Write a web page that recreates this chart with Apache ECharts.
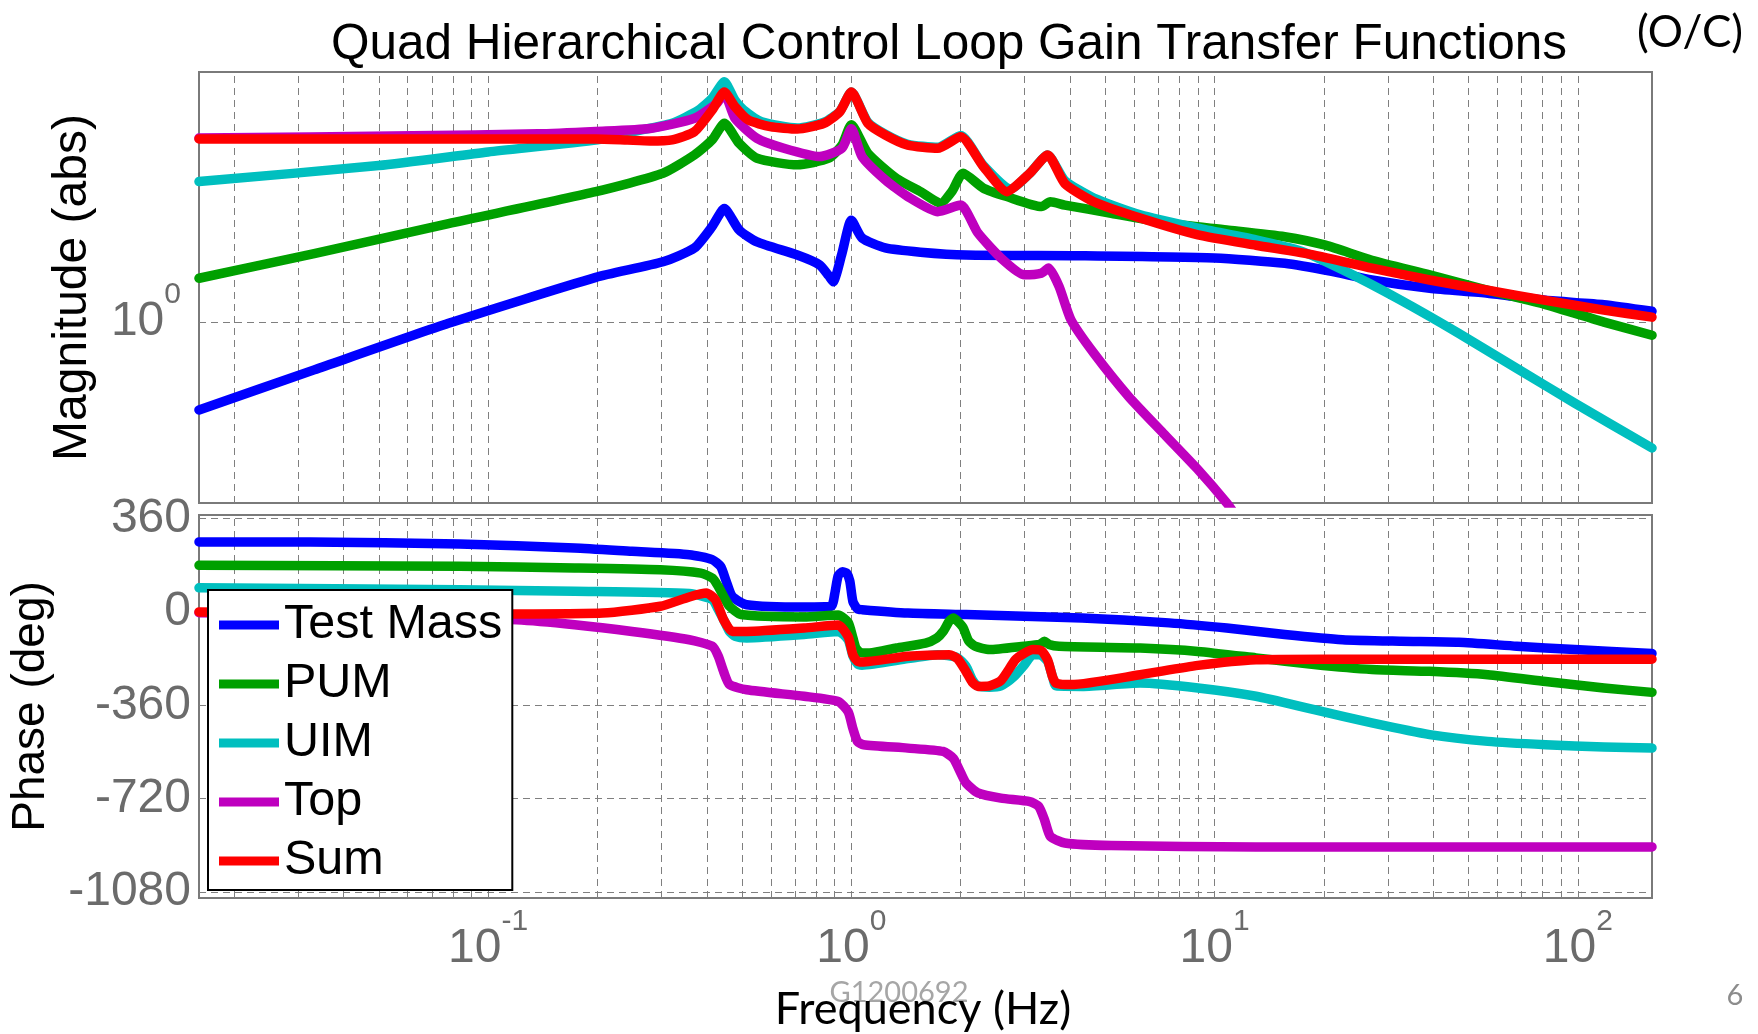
<!DOCTYPE html>
<html>
<head>
<meta charset="utf-8">
<title>Quad Hierarchical Control Loop Gain Transfer Functions</title>
<script src="https://cdn.jsdelivr.net/npm/echarts@6/dist/echarts.min.js"></script>
<style>
html,body{margin:0;padding:0;background:#fff;}
#chart{width:1758px;height:1034px;}
</style>
</head>
<body>
<div id="chart"></div>
<script>
// axes
const freqMin = 0.016, freqMax = 160
const gridFreqs = [0.02,0.03,0.04,0.05,0.06,0.07,0.08,0.09,
  0.1,0.2,0.3,0.4,0.5,0.6,0.7,0.8,0.9,
  1,2,3,4,5,6,7,8,9,
  10,20,30,40,50,60,70,80,90,100]
const magMin = 0.235, magMax = 7.4
const magGrid = [1]
const phaseMin = -1103, phaseMax = 374
const phaseTicks = [360, 0, -360, -720, -1080]

const names = ['Test Mass', 'PUM', 'UIM', 'Top', 'Sum']
const colors = ['#0000ff', '#00a000', '#00bfbf', '#bf00bf', '#ff0000']

// magnitude, [Hz, abs]
const testMassMag = [[0.016,0.495],[0.0332,0.682],[0.0778,0.99],[0.198,1.43],[0.303,1.62],[0.370,1.81],[0.414,2.15],[0.447,2.48],[0.491,2.09],[0.550,1.90],[0.710,1.71],[0.818,1.58],[0.866,1.45],[0.891,1.38],[0.942,1.73],[1.0,2.26],[1.07,1.96],[1.24,1.81],[1.55,1.75],[2.07,1.71],[4.32,1.70],[10.0,1.67],[15.6,1.60],[21.0,1.50],[27.1,1.40],[39.1,1.31],[56.5,1.26],[81.5,1.19],[118,1.15],[160,1.09]]
const pumMag = [[0.016,1.42],[0.0332,1.73],[0.0778,2.20],[0.198,2.84],[0.303,3.29],[0.370,3.81],[0.414,4.30],[0.447,4.91],[0.491,4.18],[0.550,3.71],[0.710,3.52],[0.866,3.71],[0.942,4.12],[1.0,4.85],[1.11,3.86],[1.33,3.16],[1.55,2.84],[1.76,2.59],[1.89,2.84],[2.03,3.29],[2.31,2.92],[2.68,2.73],[3.34,2.52],[3.53,2.62],[3.87,2.55],[5.19,2.39],[7.49,2.20],[10.8,2.09],[15.6,1.98],[20.2,1.85],[27.1,1.64],[39.1,1.46],[56.5,1.29],[81.5,1.15],[118,1.0],[160,0.90]]
const uimMag = [[0.016,3.08],[0.05,3.50],[0.1,3.90],[0.2,4.30],[0.242,4.55],[0.321,4.91],[0.380,5.46],[0.414,6.0],[0.447,6.84],[0.478,5.9],[0.505,5.46],[0.566,4.97],[0.710,4.73],[0.841,4.95],[0.929,5.4],[1.0,6.3],[1.11,4.95],[1.24,4.5],[1.43,4.15],[1.73,4.05],[2.0,4.45],[2.31,3.5],[2.75,2.9],[3.10,3.29],[3.47,3.81],[3.87,3.1],[4.65,2.7],[6.24,2.36],[9.0,2.12],[13.0,1.93],[17.4,1.76],[22.5,1.52],[32.6,1.19],[47.0,0.914],[67.9,0.69],[98,0.523],[160,0.365]]
const topMag = [[0.016,4.36],[0.0619,4.44],[0.137,4.51],[0.198,4.60],[0.279,4.71],[0.370,5.11],[0.426,5.76],[0.447,6.23],[0.478,5.11],[0.550,4.35],[0.652,4.02],[0.818,3.76],[0.942,4.02],[1.0,4.70],[1.07,3.76],[1.24,3.12],[1.43,2.73],[1.73,2.42],[2.0,2.55],[2.23,2.04],[2.58,1.67],[2.99,1.46],[3.34,1.48],[3.49,1.54],[3.73,1.33],[4.02,1.02],[4.65,0.78],[5.80,0.551],[7.22,0.411],[9.0,0.307],[10.8,0.235],[11.5,0.21]]
const sumMag = [[0.016,4.33],[0.198,4.33],[0.242,4.29],[0.279,4.26],[0.321,4.30],[0.370,4.59],[0.414,5.46],[0.447,6.30],[0.478,5.61],[0.520,5.04],[0.598,4.78],[0.710,4.69],[0.841,4.91],[0.929,5.38],[1.0,6.30],[1.11,4.91],[1.24,4.47],[1.43,4.12],[1.73,4.02],[2.0,4.41],[2.31,3.47],[2.68,2.84],[3.10,3.29],[3.47,3.81],[3.87,3.03],[4.65,2.62],[6.24,2.30],[9.0,2.01],[13.0,1.85],[18.8,1.71],[27.1,1.54],[39.1,1.40],[56.5,1.29],[81.5,1.19],[118,1.10],[160,1.04]]

// phase, [Hz, deg]
const testMassPhase = [[0.016,270],[0.0324,270],[0.0834,262],[0.173,247],[0.249,234],[0.358,221],[0.414,202],[0.437,175],[0.452,120],[0.470,60],[0.515,28],[0.741,19],[0.88,22],[0.90,70],[0.92,140],[0.945,155],[0.97,150],[0.99,120],[1.01,40],[1.04,12],[1.07,9],[1.43,-4],[2.07,-10],[4.32,-23],[7.49,-42],[10.8,-62],[15.6,-87],[22.5,-107],[32.6,-113],[47.0,-117],[67.9,-132],[98,-145],[160,-160]]
const pumPhase = [[0.016,180],[0.0834,176],[0.173,170],[0.298,163],[0.385,150],[0.415,130],[0.430,99],[0.445,60],[0.462,22],[0.497,-10],[0.741,-19],[0.92,-12],[0.98,-40],[1.01,-100],[1.03,-140],[1.06,-156],[1.12,-158],[1.33,-139],[1.60,-120],[1.72,-100],[1.79,-75],[1.86,-35],[1.91,-23],[1.96,-35],[2.03,-60],[2.10,-110],[2.19,-132],[2.40,-145],[2.99,-132],[3.30,-125],[3.40,-113],[3.50,-125],[3.73,-132],[6.24,-139],[9.0,-152],[13.0,-177],[18.8,-203],[27.1,-222],[39.1,-229],[56.5,-242],[81.5,-268],[118,-293],[160,-310]]
const uimPhase = [[0.016,93],[0.0834,86],[0.173,80],[0.358,71],[0.414,48],[0.430,10],[0.445,-30],[0.462,-75],[0.479,-94],[0.515,-100],[0.741,-87],[0.92,-75],[0.98,-107],[1.01,-170],[1.04,-200],[1.07,-205],[1.43,-180],[1.73,-165],[1.95,-175],[2.07,-210],[2.15,-260],[2.23,-285],[2.40,-290],[2.58,-285],[2.80,-250],[2.99,-205],[3.16,-165],[3.30,-165],[3.47,-190],[3.58,-250],[3.66,-285],[4.32,-287],[6.24,-274],[9.0,-293],[13.0,-325],[18.8,-377],[27.1,-428],[39.1,-473],[56.5,-499],[81.5,-512],[118,-521],[160,-525]]
const topPhase = [[0.016,-3],[0.05,-12],[0.12,-30],[0.173,-49],[0.249,-75],[0.358,-107],[0.414,-132],[0.430,-170],[0.445,-230],[0.462,-280],[0.515,-300],[0.741,-325],[0.92,-345],[0.98,-385],[1.01,-450],[1.04,-500],[1.08,-512],[1.43,-525],[1.79,-538],[1.91,-565],[2.0,-620],[2.07,-660],[2.23,-698],[2.58,-718],[3.10,-731],[3.28,-750],[3.40,-800],[3.53,-865],[3.87,-891],[5.19,-901],[13.0,-906],[160,-906]]
const sumPhase = [[0.016,0],[0.0834,-8],[0.207,-4],[0.298,22],[0.358,58],[0.399,73],[0.422,48],[0.445,-30],[0.470,-75],[0.515,-75],[0.741,-62],[0.92,-50],[0.98,-95],[1.01,-165],[1.04,-190],[1.07,-193],[1.43,-171],[1.86,-165],[1.96,-180],[2.07,-230],[2.15,-270],[2.23,-287],[2.40,-285],[2.58,-265],[2.83,-184],[2.99,-160],[3.16,-145],[3.34,-150],[3.47,-185],[3.58,-250],[3.66,-274],[4.02,-280],[6.24,-242],[9.0,-206],[13.0,-184],[20,-182],[160,-182]]

const magData = [testMassMag, pumMag, uimMag, topMag, sumMag]
const phaseData = [testMassPhase, pumPhase, uimPhase, topPhase, sumPhase]

const FONT = 'Liberation Sans'
const tickGray = '#6b6b6b'
const isDecade = v => Math.abs(Math.log10(v) - Math.round(Math.log10(v))) < 1e-6
const powLabel = v => isDecade(v) ? '{b|10}{e|' + Math.round(Math.log10(v)) + '}' : ''
const powRich = {
  b: {fontSize: 48, lineHeight: 84, fontFamily: FONT, color: tickGray},
  e: {fontSize: 30, lineHeight: 30, fontFamily: FONT, color: tickGray, verticalAlign: 'top'}
}

function lineSeries(name, i, data, axis) {
  return {
    name: name, type: 'line', xAxisIndex: axis, yAxisIndex: axis, data: data,
    showSymbol: false, symbol: 'none', smooth: 0.2, z: 10,
    lineStyle: {width: 9.5, color: colors[i], cap: 'round', join: 'round'},
    itemStyle: {color: colors[i]},
    emphasis: {disabled: true}, silent: true
  }
}

function gridLines(axis, extra) {
  return {
    type: 'line', xAxisIndex: axis, yAxisIndex: axis, data: [], silent: true,
    markLine: {
      silent: true, symbol: ['none', 'none'], animation: false,
      label: {show: false},
      lineStyle: {color: '#7f7f7f', width: 1, type: [7, 5]},
      emphasis: {disabled: true},
      data: gridFreqs.map(f => ({xAxis: f})).concat(extra)
    }
  }
}

const series = []
names.forEach((n, i) => series.push(lineSeries(n, i, magData[i], 0)))
names.forEach((n, i) => series.push(lineSeries(n, i, phaseData[i], 1)))
series.push(gridLines(0, magGrid.map(v => ({yAxis: v}))))
series.push(gridLines(1, phaseTicks.map(v => ({yAxis: v}))))

const hiddenAxisParts = {axisLine: {show: false}, axisTick: {show: false}, splitLine: {show: false}}

const option = {
  animation: false,
  backgroundColor: '#fff',
  grid: [
    {left: 199, right: 106, top: 72, height: 431, show: true, borderColor: '#7a7a7a', borderWidth: 2},
    {left: 199, right: 106, top: 515, height: 383, show: true, borderColor: '#7a7a7a', borderWidth: 2}
  ],
  xAxis: [
    Object.assign({type: 'log', logBase: 10, gridIndex: 0, min: freqMin, max: freqMax,
      axisLabel: {show: false}}, hiddenAxisParts),
    Object.assign({type: 'log', logBase: 10, gridIndex: 1, min: freqMin, max: freqMax,
      axisLabel: {margin: 9, fontSize: 48, fontFamily: FONT, color: tickGray, formatter: powLabel, rich: powRich}}, hiddenAxisParts)
  ],
  yAxis: [
    Object.assign({type: 'log', logBase: 10, gridIndex: 0, min: magMin, max: magMax,
      name: 'Magnitude (abs)', nameLocation: 'middle', nameRotate: 90, nameGap: 102,
      nameTextStyle: {fontSize: 48, fontFamily: FONT, color: '#000'},
      axisLabel: {margin: 18, fontSize: 48, fontFamily: FONT, color: tickGray, formatter: powLabel, rich: powRich}}, hiddenAxisParts),
    Object.assign({type: 'value', gridIndex: 1, min: phaseMin, max: phaseMax,
      name: 'Phase (deg)', nameLocation: 'middle', nameRotate: 90, nameGap: 145,
      nameTextStyle: {fontSize: 46, fontFamily: FONT, color: '#000'},
      axisLabel: {margin: 8, customValues: phaseTicks, fontSize: 48, fontFamily: FONT, color: tickGray,
        formatter: v => String(v)}}, hiddenAxisParts)
  ],
  legend: {
    data: names, orient: 'vertical', left: 208, top: 590, z: 20,
    icon: 'rect', itemWidth: 60, itemHeight: 9, itemGap: 9,
    padding: [10, 10, 4, 11], backgroundColor: '#fff', borderColor: '#000', borderWidth: 2,
    selectedMode: false,
    textStyle: {fontSize: 48.5, fontFamily: FONT, color: '#000', lineHeight: 50}
  },
  graphic: [
    {type: 'text', x: 949, y: 45.5, z: 30, style: {text: 'Quad Hierarchical Control Loop Gain Transfer Functions',
      fontSize: 49.5, fontFamily: FONT, fill: '#000', align: 'center', verticalAlign: 'middle'}},
    {type: 'text', x: 1690, y: 33, z: 30, style: {text: '(O/C)',
      fontSize: 44, fontFamily: 'Lato', fill: '#000', align: 'center', verticalAlign: 'middle'}},
    {type: 'text', x: 899, y: 993, z: 30, style: {text: 'G1200692',
      fontSize: 29, fontFamily: 'Lato', fill: '#a6a6a6', align: 'center', verticalAlign: 'middle'}},
    {type: 'text', x: 923, y: 1009, z: 31, style: {text: 'Frequency (Hz)',
      fontSize: 45, fontFamily: 'Lato', fill: '#000', align: 'center', verticalAlign: 'middle'}},
    {type: 'text', x: 1735, y: 996, z: 30, style: {text: '6',
      fontSize: 29, fontFamily: 'Lato', fill: '#8c8c8c', align: 'center', verticalAlign: 'middle'}}
  ],
  series: series
}

const myChart = echarts.init(document.getElementById('chart'))
myChart.setOption(option)
window.addEventListener('resize', () => { myChart.resize() })
</script>
</body>
</html>
